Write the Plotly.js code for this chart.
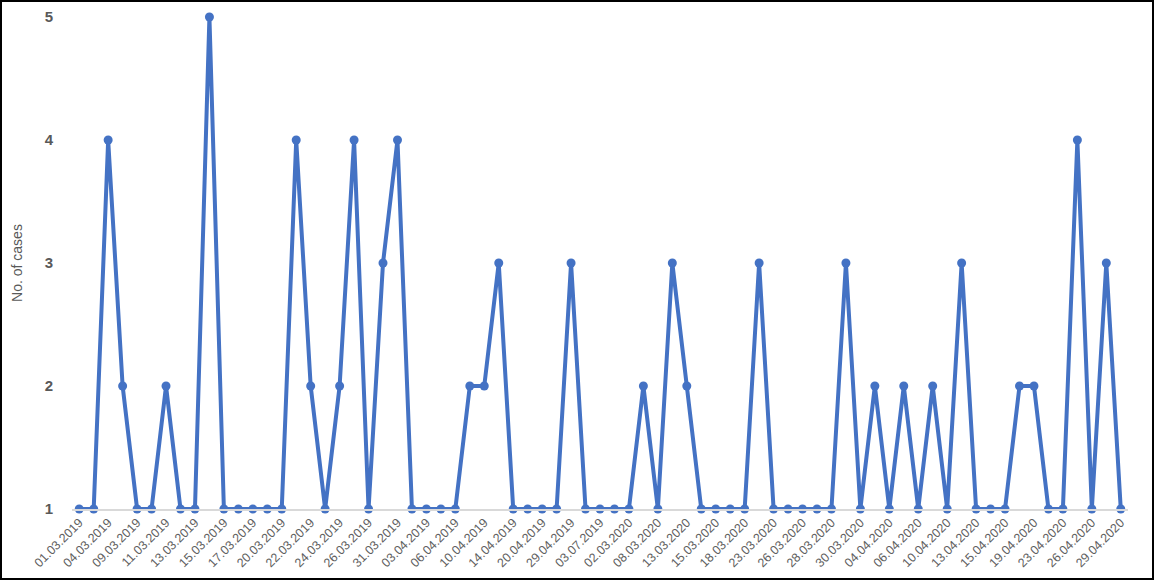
<!DOCTYPE html>
<html>
<head>
<meta charset="utf-8">
<script src="https://cdn.plot.ly/plotly-3.0.1.min.js"></script>
<style>
html,body{margin:0;padding:0;background:#fff;}
#wrap{position:relative;width:1154px;height:580px;}
#chart{width:1154px;height:580px;}
#frame{position:absolute;left:0;top:0;width:1154px;height:580px;box-sizing:border-box;border:2px solid #000;pointer-events:none;}
</style>
</head>
<body>
<div id="wrap"><div id="chart"></div><div id="frame"></div></div>
<script>
// Tick labels shown under every other point
const tickLabels = ["01.03.2019","04.03.2019","09.03.2019","11.03.2019","13.03.2019","15.03.2019","17.03.2019","20.03.2019","22.03.2019","24.03.2019","26.03.2019","31.03.2019","03.04.2019","06.04.2019","10.04.2019","14.04.2019","20.04.2019","29.04.2019","03.07.2019","02.03.2020","08.03.2020","13.03.2020","15.03.2020","18.03.2020","23.03.2020","26.03.2020","28.03.2020","30.03.2020","04.04.2020","06.04.2020","10.04.2020","13.04.2020","15.04.2020","19.04.2020","23.04.2020","26.04.2020","29.04.2020"];

// Number of cases per observation (73 points)
const cases = [1,1,4,2,1,1,2,1,1,5,1,1,1,1,1,4,2,1,2,4,1,3,4,1,1,1,1,2,2,3,1,1,1,1,3,1,1,1,1,2,1,3,2,1,1,1,1,3,1,1,1,1,1,3,1,2,1,2,1,2,1,3,1,1,1,2,2,1,1,4,1,3,1];

const xIdx = cases.map((_, i) => i);
const tickVals = tickLabels.map((_, i) => i * 2);

const trace = {
  x: xIdx,
  y: cases,
  type: 'scatter',
  mode: 'lines+markers',
  line: {color: '#4472C4', width: 4},
  marker: {color: '#4472C4', size: 9},
  cliponaxis: false,
  hoverinfo: 'y'
};

const layout = {
  width: 1154,
  height: 580,
  margin: {l: 72, r: 26, t: 17, b: 71, pad: 0},
  paper_bgcolor: '#ffffff',
  plot_bgcolor: '#ffffff',
  showlegend: false,
  font: {family: 'Liberation Sans, Arial, sans-serif', color: '#595959'},
  xaxis: {
    range: [-0.5, 72.5],
    tickmode: 'array',
    tickvals: tickVals,
    ticktext: tickLabels,
    tickangle: -45,
    tickfont: {size: 12.5, color: '#606060'},
    showgrid: false,
    zeroline: false,
    showline: true,
    linecolor: '#d9d9d9',
    linewidth: 1.5,
    ticks: ''
  },
  yaxis: {
    range: [1, 5],
    tickmode: 'linear',
    tick0: 1,
    dtick: 1,
    showgrid: false,
    zeroline: false,
    showline: false,
    ticks: '',
    ticklabelstandoff: 18,
    tickfont: {size: 15, color: '#595959', weight: 'bold'},
    title: {text: 'No. of cases', font: {size: 14, color: '#595959'}, standoff: 18}
  }
};

Plotly.newPlot('chart', [trace], layout, {displayModeBar: false, staticPlot: true});
</script>
</body>
</html>
